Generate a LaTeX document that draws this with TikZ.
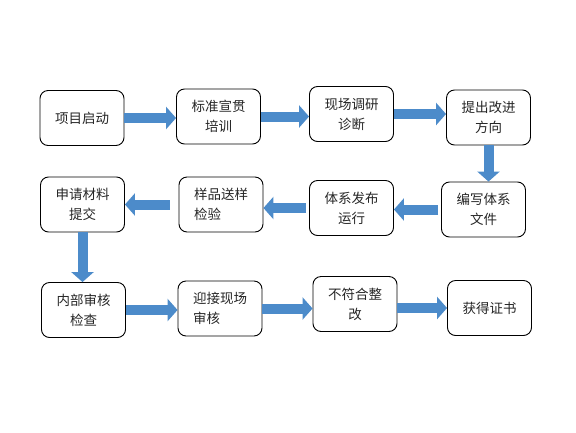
\documentclass[tikz,border=0pt]{standalone}
\usepackage{fontspec}
\newfontfamily\cjk{Noto Sans CJK SC}
\usetikzlibrary{arrows.meta}
\definecolor{arrowblue}{RGB}{76,139,202}
\tikzset{
  box/.style={draw=black, line width=0.9pt, rounded corners=8pt, fill=white,
    minimum width=84pt, minimum height=55pt, inner sep=2pt, align=center,
    font=\cjk\fontsize{13.5}{20}\selectfont, text=black!85},
  boxl/.style={box, align=left},
  barrow/.style={draw=arrowblue, line width=10pt,
    -{Triangle[width=22pt,length=10pt]}, color=arrowblue}
}
\begin{document}
\begin{tikzpicture}[x=1pt,y=-1pt]
\useasboundingbox[fill=white] (0,0) rectangle (576,432);
\node[box] (A) at (82,118) {项目启动};
\node[box] (B) at (218.5,116.5) {标准宣贯\\培训};
\node[box] (C) at (351.5,114) {现场调研\\诊断};
\node[box] (D) at (488.5,117.5) {提出改进\\方向};
\node[box] (E) at (483.5,209.5) {编写体系\\文件};
\node[box] (F) at (351.5,208) {体系发布\\运行};
\node[boxl] (G) at (221,204.5) {样品送样\\检验};
\node[box] (H) at (82.5,204.5) {申请材料\\提交};
\node[box] (I) at (83.5,310) {内部审核\\检查};
\node[boxl] (J) at (220,308.5) {迎接现场\\审核};
\node[box] (K) at (355,304) {不符合整\\改};
\node[box] (L) at (489.5,308) {获得证书};
\draw[barrow] (A.east) -- (A.east -| B.west);
\draw[barrow] (B.east) -- (B.east -| C.west);
\draw[barrow] (C.east) -- (C.east -| D.west);
\draw[barrow] (D.south) -- (D.south |- E.north);
\draw[barrow, shorten <=3pt] (E.west) -- (E.west -| F.east);
\draw[barrow, shorten <=3pt] (F.west) -- (F.west -| G.east);
\draw[barrow, shorten <=9pt] (G.west) -- (G.west -| H.east);
\draw[barrow] (H.south) -- (H.south |- I.north);
\draw[barrow] (I.east) -- (I.east -| J.west);
\draw[barrow] (J.east) -- (J.east -| K.west);
\draw[barrow] (K.east |- L.west) -- (L.west);
\end{tikzpicture}
\end{document}
